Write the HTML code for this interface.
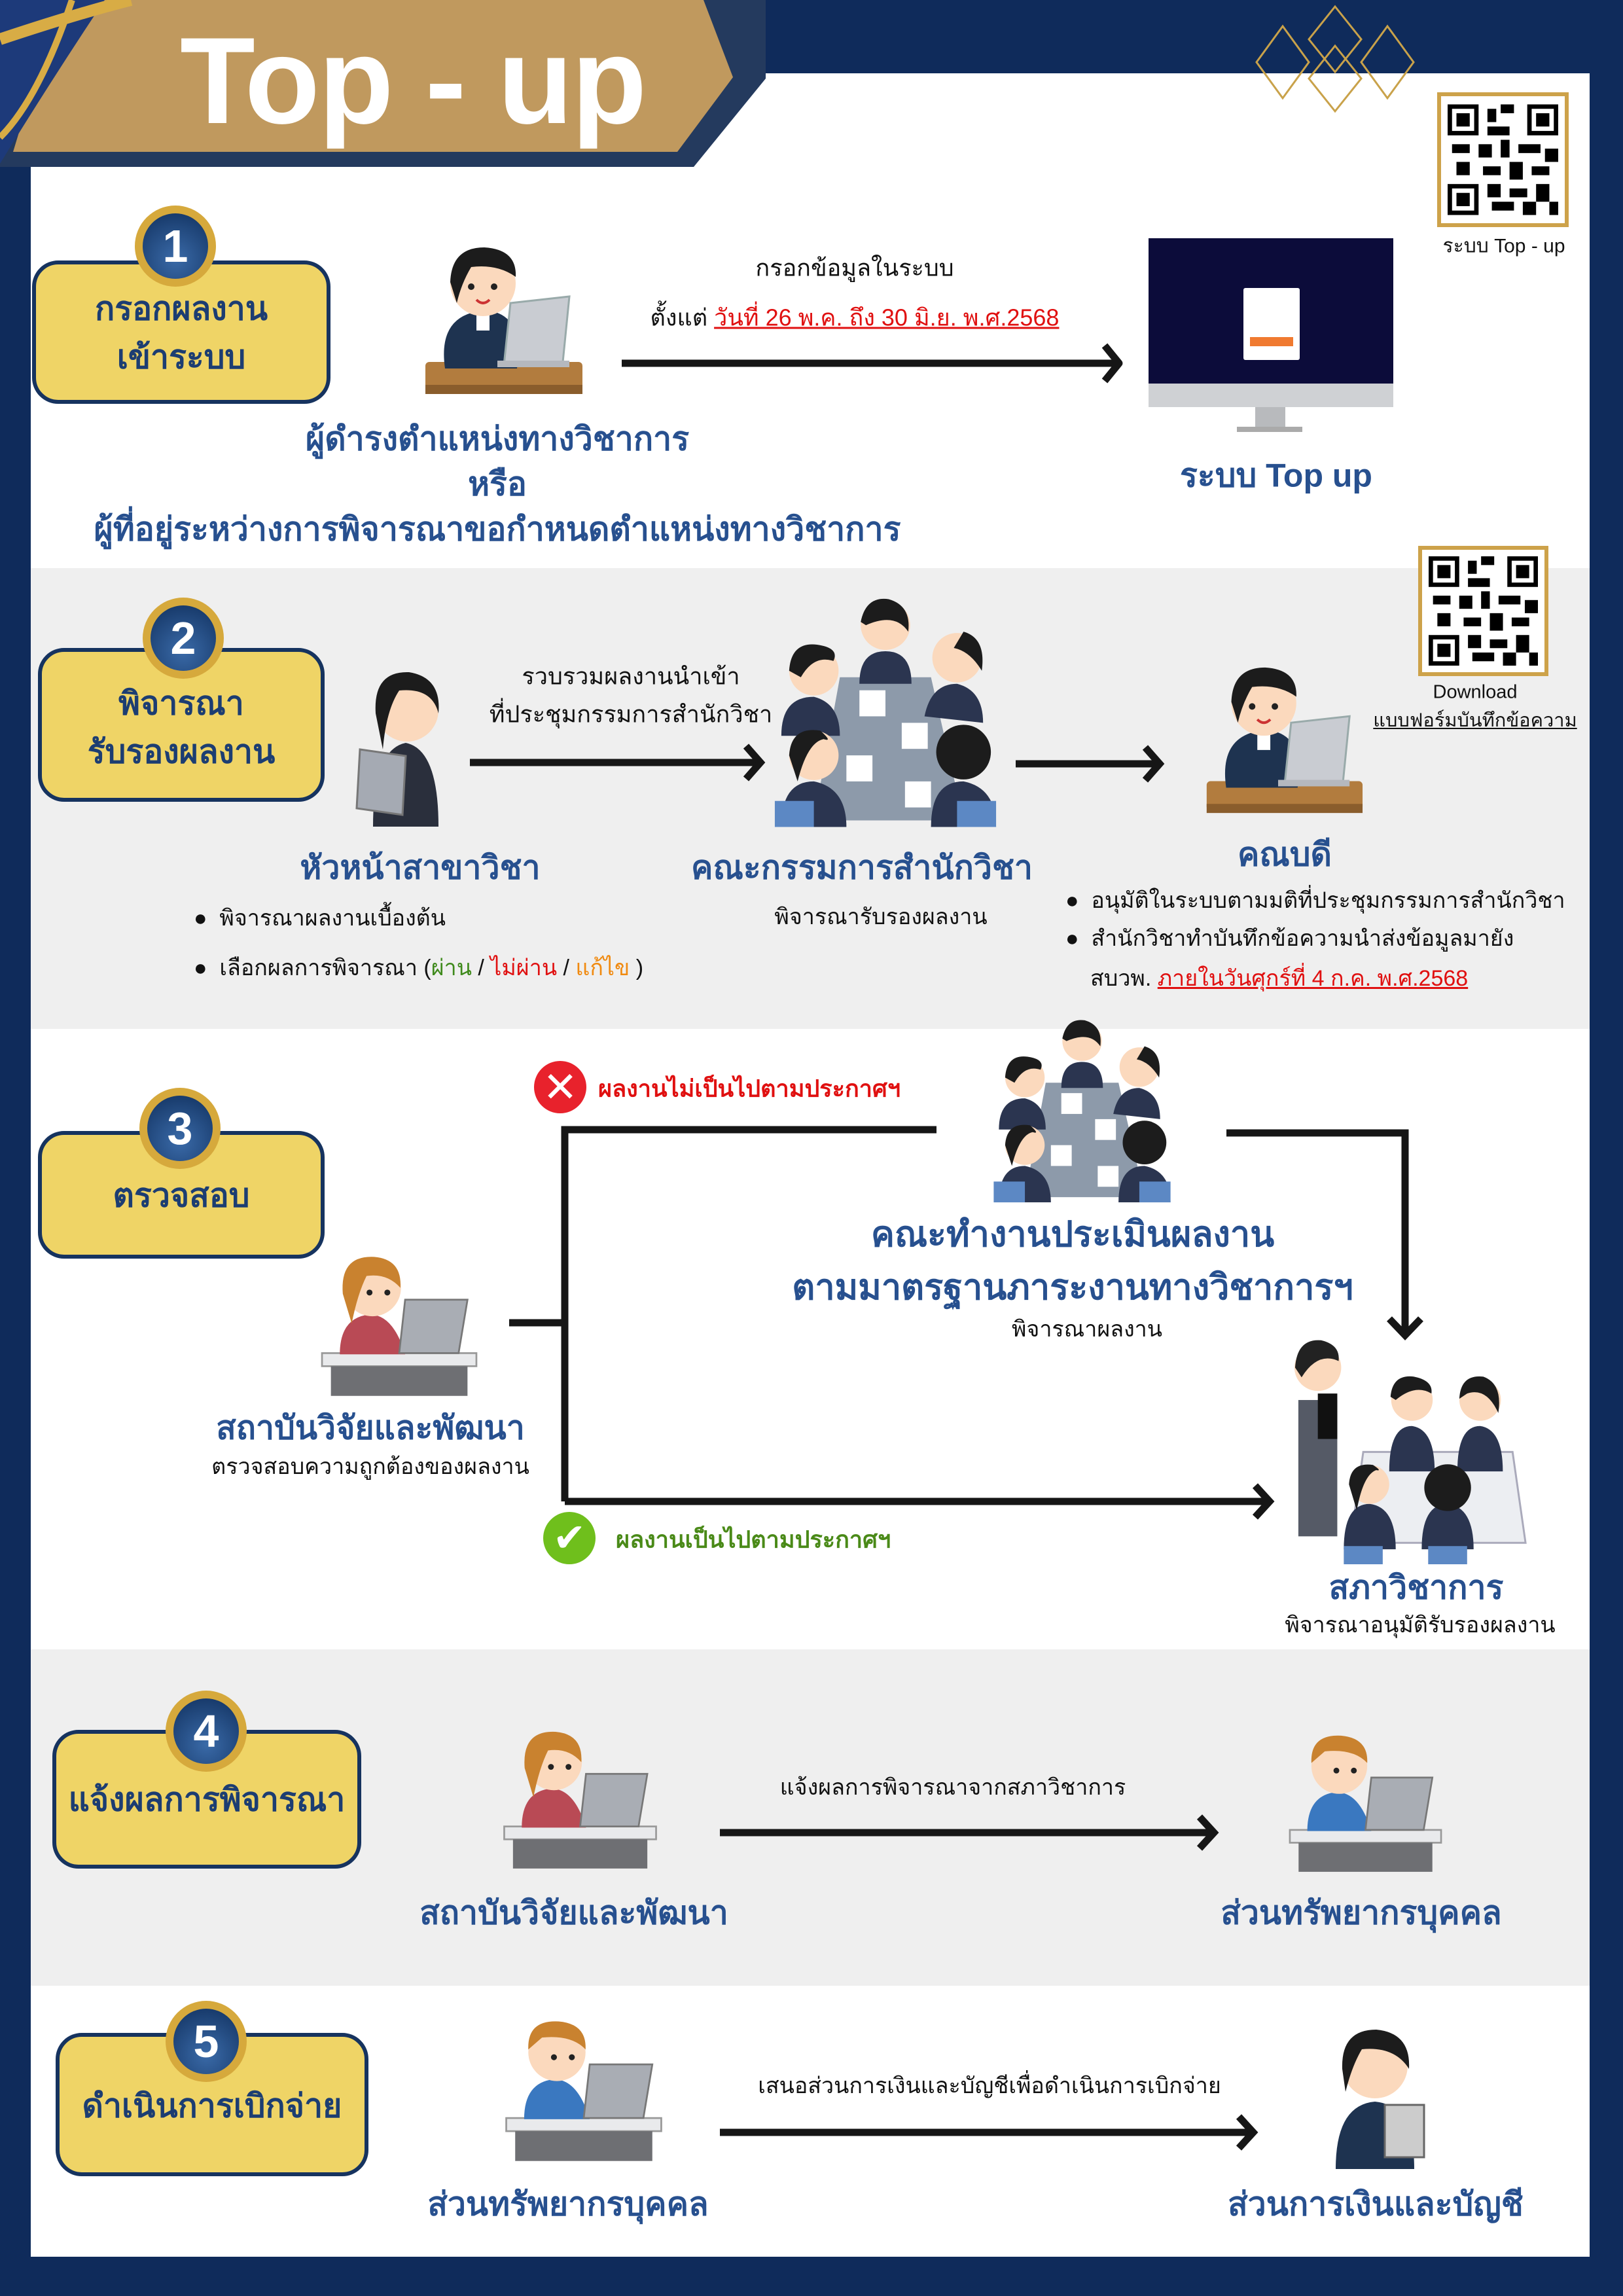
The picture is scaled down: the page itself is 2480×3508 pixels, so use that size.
<!DOCTYPE html>
<html><head><meta charset="utf-8">
<style>
*{margin:0;padding:0;box-sizing:border-box}
body{width:2480px;height:3508px;background:#0f2b5b;position:relative;overflow:hidden;font-family:"Liberation Sans","DejaVu Sans",sans-serif}
.abs{position:absolute}
.c{position:absolute;transform:translate(-50%,-50%);white-space:nowrap;text-align:center}
.l{position:absolute;transform:translateY(-50%);white-space:nowrap}
.h{color:#27508f;font-weight:bold;font-size:50px}
.t{color:#111;font-size:34px}
.badge{position:absolute;background:#efd466;border:6px solid #16335f;border-radius:40px}
.num{position:absolute;width:124px;height:124px;border-radius:50%;background:#d6a93c;transform:translate(-50%,-50%)}
.num div{position:absolute;left:12px;top:12px;width:100px;height:100px;border-radius:50%;background:radial-gradient(circle at 50% 70%,#3a6aa8,#10305e);color:#fff;font-size:70px;font-weight:bold;text-align:center;line-height:100px}
.bt{color:#1c3d72;font-weight:bold;font-size:50px}
.red{color:#e01010;text-decoration:underline}
.qr{position:absolute;background:#fff;border:6px solid #cda24a}
</style></head><body>
<svg width="0" height="0" style="position:absolute">
<defs>
<symbol id="worker" viewBox="0 0 300 270">
<rect x="40" y="200" width="240" height="45" rx="6" fill="#b27c3e"/>
<rect x="40" y="235" width="240" height="14" fill="#8a5d2c"/>
<path d="M70 210 Q60 140 110 125 L150 125 Q190 140 180 210Z" fill="#1e3350"/>
<rect x="118" y="122" width="20" height="30" fill="#fff"/>
<circle cx="128" cy="80" r="50" fill="#fbd9bd"/>
<path d="M78 78 Q80 25 130 25 Q180 28 178 70 Q150 50 110 55 Q95 80 88 110Z" fill="#1c1c1c"/>
<circle cx="110" cy="85" r="5" fill="#222"/><circle cx="145" cy="85" r="5" fill="#222"/>
<path d="M118 105 Q128 115 138 105" stroke="#c33" stroke-width="4" fill="none"/>
<polygon points="170,110 260,100 250,200 160,205" fill="#c9ccd2" stroke="#9aa" stroke-width="3"/>
<rect x="150" y="198" width="110" height="10" fill="#b5b8be"/>
</symbol>
<symbol id="group" viewBox="0 0 360 380">
<polygon points="110,140 250,140 300,360 70,360" fill="#8d9aaa"/>
<rect x="140" y="160" width="40" height="40" fill="#fff"/><rect x="205" y="210" width="40" height="40" fill="#fff"/>
<rect x="120" y="260" width="40" height="40" fill="#fff"/><rect x="210" y="300" width="40" height="40" fill="#fff"/>
<g fill="#2b3550"><path d="M140 150 Q140 100 180 100 Q220 100 220 150Z"/><path d="M20 230 Q20 170 70 170 Q110 180 110 230Z"/><path d="M240 200 Q250 150 290 150 Q330 160 330 210Z"/><path d="M20 370 Q20 300 70 300 Q120 310 120 370Z"/><path d="M250 370 Q250 300 300 300 Q350 310 350 370Z"/></g>
<g fill="#fbd9bd"><circle cx="180" cy="60" r="38"/><circle cx="70" cy="130" r="38"/><circle cx="290" cy="110" r="38"/><circle cx="70" cy="260" r="38"/></g>
<g fill="#1c1c1c"><path d="M142 55 Q150 15 185 20 Q220 30 215 70 Q195 40 150 60Z"/><path d="M32 130 Q35 85 75 90 Q110 95 100 115 Q70 105 50 140Z"/><path d="M300 70 Q335 80 328 130 Q310 100 285 95Z"/><path d="M32 260 Q35 215 80 222 Q100 240 85 235 Q60 240 45 300Z"/><circle cx="300" cy="255" r="42"/></g>
<rect x="10" y="330" width="60" height="40" fill="#5c88c4"/><rect x="290" y="330" width="60" height="40" fill="#5c88c4"/>
</symbol>
<symbol id="council" viewBox="0 0 370 375">
<polygon points="110,200 340,200 360,340 90,340" fill="#eceef2" stroke="#aab" stroke-width="3"/>
<rect x="10" y="120" width="60" height="210" fill="#555a66"/>
<circle cx="40" cy="70" r="36" fill="#fbd9bd"/><path d="M5 70 Q8 25 45 28 Q75 35 72 60 Q40 45 15 85Z" fill="#222"/>
<rect x="40" y="110" width="30" height="70" fill="#111"/>
<g fill="#2b3550"><path d="M150 230 Q150 160 185 160 Q220 165 220 230Z"/><path d="M255 230 Q255 160 290 160 Q325 165 325 230Z"/><path d="M80 350 Q80 280 120 280 Q160 285 160 350Z"/><path d="M200 350 Q200 280 240 280 Q280 285 280 350Z"/></g>
<g fill="#fbd9bd"><circle cx="185" cy="120" r="32"/><circle cx="290" cy="120" r="32"/><circle cx="120" cy="250" r="30"/></g>
<g fill="#1c1c1c"><path d="M152 115 Q155 80 188 84 Q218 90 215 110 Q190 95 160 120Z"/><path d="M258 118 Q260 80 295 84 Q325 95 318 140 Q300 100 270 110Z"/><path d="M88 250 Q90 215 125 220 Q140 230 130 228 Q110 235 100 290Z"/><circle cx="240" cy="255" r="36"/></g>
<rect x="80" y="345" width="60" height="28" fill="#5c88c4"/><rect x="210" y="345" width="60" height="28" fill="#5c88c4"/>
</symbol>
<symbol id="staff" viewBox="0 0 280 270">
<rect x="10" y="190" width="260" height="22" fill="#e9eaec" stroke="#999" stroke-width="3"/>
<rect x="25" y="212" width="230" height="50" fill="#6e6f73"/>
<path d="M40 192 Q40 130 90 125 Q130 125 150 192Z" fill="#b94a55"/>
<circle cx="95" cy="80" r="48" fill="#fbd9bd"/>
<path d="M45 90 Q40 25 98 28 Q145 32 142 80 Q120 55 85 60 Q70 90 60 140Z" fill="#c9822f"/>
<circle cx="90" cy="88" r="5" fill="#222"/><circle cx="120" cy="88" r="5" fill="#222"/>
<polygon points="150,100 255,100 240,190 140,190" fill="#a9adb4" stroke="#777" stroke-width="3"/>
</symbol>
<symbol id="staffm" viewBox="0 0 280 270">
<rect x="10" y="190" width="260" height="22" fill="#e9eaec" stroke="#999" stroke-width="3"/>
<rect x="25" y="212" width="230" height="50" fill="#6e6f73"/>
<path d="M40 192 Q40 130 90 125 Q130 125 150 192Z" fill="#3a78c0"/>
<circle cx="95" cy="80" r="48" fill="#fbd9bd"/>
<path d="M47 75 Q45 25 98 28 Q145 32 143 75 Q120 50 70 55Z" fill="#c9822f"/>
<circle cx="90" cy="88" r="5" fill="#222"/><circle cx="120" cy="88" r="5" fill="#222"/>
<polygon points="150,100 255,100 240,190 140,190" fill="#a9adb4" stroke="#777" stroke-width="3"/>
</symbol>
<symbol id="qrp" viewBox="0 0 25 25">
<g fill="#000"><rect x="0" y="0" width="7" height="7"/><rect x="18" y="0" width="7" height="7"/><rect x="0" y="18" width="7" height="7"/></g>
<g fill="#fff"><rect x="1" y="1" width="5" height="5"/><rect x="19" y="1" width="5" height="5"/><rect x="1" y="19" width="5" height="5"/></g>
<g fill="#000"><rect x="2" y="2" width="3" height="3"/><rect x="20" y="2" width="3" height="3"/><rect x="2" y="20" width="3" height="3"/>
<rect x="9" y="1" width="2" height="3"/><rect x="12" y="0" width="3" height="2"/><rect x="9" y="5" width="5" height="2"/><rect x="1" y="9" width="4" height="2"/><rect x="7" y="9" width="3" height="3"/><rect x="12" y="8" width="2" height="4"/><rect x="16" y="9" width="5" height="2"/><rect x="22" y="10" width="3" height="3"/><rect x="2" y="13" width="3" height="3"/><rect x="8" y="14" width="4" height="2"/><rect x="14" y="13" width="3" height="4"/><rect x="19" y="14" width="4" height="2"/><rect x="9" y="18" width="3" height="3"/><rect x="14" y="19" width="4" height="2"/><rect x="20" y="18" width="3" height="4"/><rect x="10" y="22" width="5" height="2"/><rect x="17" y="22" width="3" height="3"/><rect x="23" y="22" width="2" height="3"/></g>
</symbol>
</defs></svg>

<div class="abs" style="left:47px;top:112px;width:2382px;height:3336px;background:#fff"></div>
<div class="abs" style="left:47px;top:868px;width:2382px;height:704px;background:#efefef"></div>
<div class="abs" style="left:47px;top:2520px;width:2382px;height:514px;background:#efefef"></div>

<svg class="abs" style="left:0;top:0" width="2480" height="270">
<polygon points="0,0 1170,0 1170,120 1060,255 0,255" fill="#243a5e"/>
<polygon points="90,0 1075,0 1120,118 1035,232 20,232" fill="#c0995e"/>
<path d="M0 0 L160 0 Q80 120 0 250Z" fill="#1d3a7a"/>
<path d="M0 60 Q120 20 200 0" stroke="#d8ac45" stroke-width="18" fill="none"/>
<path d="M0 210 Q60 150 110 0" stroke="#d8ac45" stroke-width="10" fill="none"/>
<g stroke="#c9a24a" stroke-width="3" fill="none">
<polygon points="1960,40 2000,95 1960,150 1920,95"/><polygon points="2040,10 2080,60 2040,110 2000,60"/><polygon points="2040,70 2080,120 2040,170 2000,120"/><polygon points="2120,40 2160,95 2120,150 2080,95"/></g>
</svg>
<div class="abs" style="left:275px;top:28px;font-size:188px;font-weight:bold;color:#fff;line-height:190px;letter-spacing:-2px">Top - up</div>

<div class="qr" style="left:2196px;top:141px;width:201px;height:206px;padding:10px"><svg width="169" height="174"><use href="#qrp" width="169" height="174"/></svg></div>
<div class="c t" style="left:2298px;top:376px;font-size:30px">ระบบ Top - up</div>

<div class="badge" style="left:49px;top:398px;width:456px;height:219px"></div>
<div class="num" style="left:268px;top:376px"><div>1</div></div>
<div class="c bt" style="left:277px;top:472px">กรอกผลงาน</div>
<div class="c bt" style="left:277px;top:546px">เข้าระบบ</div>
<svg class="abs" style="left:608px;top:353px" width="304" height="270"><use href="#worker" width="304" height="270"/></svg>
<div class="c t" style="left:1306px;top:409px;font-size:36px">กรอกข้อมูลในระบบ</div>
<div class="c t" style="left:1306px;top:485px;font-size:36px">ตั้งแต่ <span class="red">วันที่ 26 พ.ค. ถึง 30 มิ.ย. พ.ศ.2568</span></div>
<div class="abs" style="left:1755px;top:364px;width:374px;height:222px;background:#0c0c3a"></div>
<div class="abs" style="left:1900px;top:440px;width:86px;height:110px;background:#fff;border-radius:3px"></div>
<div class="abs" style="left:1910px;top:515px;width:66px;height:14px;background:#f07a30"></div>
<div class="abs" style="left:1755px;top:586px;width:374px;height:36px;background:#cfd1d4"></div>
<div class="abs" style="left:1918px;top:622px;width:46px;height:34px;background:#b8babd"></div>
<div class="abs" style="left:1890px;top:652px;width:100px;height:8px;background:#aaa"></div>
<div class="c h" style="left:1950px;top:727px">ระบบ Top up</div>
<div class="c h" style="left:760px;top:671px">ผู้ดำรงตำแหน่งทางวิชาการ</div>
<div class="c h" style="left:760px;top:740px">หรือ</div>
<div class="c h" style="left:760px;top:809px">ผู้ที่อยู่ระหว่างการพิจารณาขอกำหนดตำแหน่งทางวิชาการ</div>

<div class="qr" style="left:2167px;top:834px;width:199px;height:199px;padding:10px"><svg width="167" height="167"><use href="#qrp" width="167" height="167"/></svg></div>
<div class="c t" style="left:2254px;top:1058px;font-size:29px">Download</div>
<div class="c t" style="left:2254px;top:1100px;font-size:29px;text-decoration:underline">แบบฟอร์มบันทึกข้อความ</div>
<div class="badge" style="left:58px;top:990px;width:438px;height:235px"></div>
<div class="num" style="left:280px;top:975px"><div>2</div></div>
<div class="c bt" style="left:277px;top:1075px">พิจารณา</div>
<div class="c bt" style="left:277px;top:1149px">รับรองผลงาน</div>
<svg class="abs" style="left:530px;top:995px" width="180" height="268" viewBox="0 0 180 268">
<path d="M40 268 Q40 150 90 140 Q140 150 140 268Z" fill="#2a2f3c"/>
<circle cx="92" cy="90" r="48" fill="#fbd9bd"/>
<path d="M44 95 Q40 30 95 32 Q145 40 140 95 Q130 55 80 60 Q60 90 55 150Z" fill="#1c1c1c"/>
<polygon points="20,150 90,160 85,250 15,240" fill="#a5aab3" stroke="#777" stroke-width="3"/>
</svg>
<div class="c t" style="left:964px;top:1033px;font-size:36px">รวบรวมผลงานนำเข้า</div>
<div class="c t" style="left:964px;top:1091px;font-size:36px">ที่ประชุมกรรมการสำนักวิชา</div>
<svg class="abs" style="left:1174px;top:890px" width="358" height="389"><use href="#group" width="358" height="389"/></svg>
<svg class="abs" style="left:1800px;top:995px" width="306" height="268"><use href="#worker" width="306" height="268"/></svg>
<div class="c h" style="left:642px;top:1326px">หัวหน้าสาขาวิชา</div>
<div class="c h" style="left:1317px;top:1326px">คณะกรรมการสำนักวิชา</div>
<div class="c h" style="left:1963px;top:1306px">คณบดี</div>
<div class="l t" style="left:296px;top:1402px">●&nbsp; พิจารณาผลงานเบื้องต้น</div>
<div class="l t" style="left:296px;top:1478px">●&nbsp; เลือกผลการพิจารณา (<span style="color:#3f8a1c">ผ่าน</span> / <span style="color:#e01010">ไม่ผ่าน</span> / <span style="color:#f08a10">แก้ไข</span> )</div>
<div class="c t" style="left:1346px;top:1400px">พิจารณารับรองผลงาน</div>
<div class="l t" style="left:1628px;top:1375px">●&nbsp; อนุมัติในระบบตามมติที่ประชุมกรรมการสำนักวิชา</div>
<div class="l t" style="left:1628px;top:1433px">●&nbsp; สำนักวิชาทำบันทึกข้อความนำส่งข้อมูลมายัง</div>
<div class="l t" style="left:1666px;top:1494px">สบวพ. <span class="red">ภายในวันศุกร์ที่ 4 ก.ค. พ.ศ.2568</span></div>

<div class="badge" style="left:58px;top:1728px;width:438px;height:195px"></div>
<div class="num" style="left:275px;top:1724px"><div>3</div></div>
<div class="c bt" style="left:277px;top:1827px">ตรวจสอบ</div>
<svg class="abs" style="left:480px;top:1895px" width="260" height="245"><use href="#staff" width="260" height="245"/></svg>
<div class="c h" style="left:566px;top:2182px">สถาบันวิจัยและพัฒนา</div>
<div class="c t" style="left:566px;top:2240px">ตรวจสอบความถูกต้องของผลงาน</div>
<svg class="abs" style="left:1458px;top:1543px" width="391" height="302"><use href="#group" width="391" height="302" preserveAspectRatio="none"/></svg>
<div class="c h" style="left:1639px;top:1885px;font-size:54px">คณะทำงานประเมินผลงาน</div>
<div class="c h" style="left:1639px;top:1966px;font-size:54px">ตามมาตรฐานภาระงานทางวิชาการฯ</div>
<div class="c t" style="left:1661px;top:2030px">พิจารณาผลงาน</div>
<svg class="abs" style="left:1974px;top:2019px" width="367" height="374"><use href="#council" width="367" height="374"/></svg>
<div class="c h" style="left:2164px;top:2426px">สภาวิชาการ</div>
<div class="c t" style="left:2170px;top:2482px">พิจารณาอนุมัติรับรองผลงาน</div>
<div class="abs" style="left:816px;top:1621px;width:80px;height:80px;border-radius:50%;background:#e8222c;color:#fff;font-size:64px;font-weight:bold;text-align:center;line-height:80px">✕</div>
<div class="l" style="left:914px;top:1663px;color:#e01010;font-weight:bold;font-size:36px">ผลงานไม่เป็นไปตามประกาศฯ</div>
<div class="abs" style="left:830px;top:2310px;width:80px;height:80px;border-radius:50%;background:#6fbf1c;color:#fff;font-size:60px;font-weight:bold;text-align:center;line-height:80px">✔</div>
<div class="l" style="left:941px;top:2352px;color:#4a8a18;font-weight:bold;font-size:36px">ผลงานเป็นไปตามประกาศฯ</div>

<div class="badge" style="left:80px;top:2643px;width:472px;height:212px"></div>
<div class="num" style="left:315px;top:2645px"><div>4</div></div>
<div class="c bt" style="left:316px;top:2750px">แจ้งผลการพิจารณา</div>
<svg class="abs" style="left:747px;top:2621px" width="279" height="241"><use href="#staff" width="279" height="241"/></svg>
<div class="c t" style="left:1456px;top:2730px">แจ้งผลการพิจารณาจากสภาวิชาการ</div>
<svg class="abs" style="left:1959px;top:2627px" width="255" height="240"><use href="#staffm" width="255" height="240"/></svg>
<div class="c h" style="left:877px;top:2923px">สถาบันวิจัยและพัฒนา</div>
<div class="c h" style="left:2080px;top:2923px">ส่วนทรัพยากรบุคคล</div>

<div class="badge" style="left:85px;top:3106px;width:478px;height:219px"></div>
<div class="num" style="left:315px;top:3119px"><div>5</div></div>
<div class="c bt" style="left:324px;top:3218px">ดำเนินการเบิกจ่าย</div>
<svg class="abs" style="left:760px;top:3063px" width="264" height="246"><use href="#staffm" width="264" height="246"/></svg>
<div class="c t" style="left:1512px;top:3186px">เสนอส่วนการเงินและบัญชีเพื่อดำเนินการเบิกจ่าย</div>
<svg class="abs" style="left:2021px;top:3086px" width="166" height="228" viewBox="0 0 166 228">
<path d="M20 228 Q20 130 80 125 Q140 130 140 228Z" fill="#1e3350"/>
<circle cx="80" cy="70" r="50" fill="#fbd9bd"/>
<path d="M30 75 Q28 15 82 15 Q135 20 132 75 Q110 40 60 45 Q45 70 35 110Z" fill="#1c1c1c"/>
<rect x="95" y="130" width="60" height="80" fill="#ccc" stroke="#666" stroke-width="3"/>
</svg>
<div class="c h" style="left:868px;top:3368px">ส่วนทรัพยากรบุคคล</div>
<div class="c h" style="left:2102px;top:3368px">ส่วนการเงินและบัญชี</div>

<svg class="abs" style="left:0;top:0" width="2480" height="3508" fill="none" stroke="#161616" stroke-width="11">
<path d="M950 555 H1705"/><path d="M1688 528 L1710 555 L1688 582" stroke-linejoin="round"/>
<path d="M718 1165 H1158"/><path d="M1140 1140 L1162 1165 L1140 1190"/>
<path d="M1552 1167 H1768"/><path d="M1750 1142 L1772 1167 L1750 1192"/>
<path d="M778 2021 H866"/><path d="M863 2294 V1726 H1431"/><path d="M863 2294 H1936"/><path d="M1918 2270 L1940 2294 L1918 2318"/>
<path d="M1874 1731 H2147 V2034"/><path d="M2123 2015 L2147 2040 L2171 2015"/>
<path d="M1100 2800 H1851"/><path d="M1833 2776 L1855 2800 L1833 2824"/>
<path d="M1100 3258 H1911"/><path d="M1893 3234 L1915 3258 L1893 3282"/>
</svg>
</body></html>
